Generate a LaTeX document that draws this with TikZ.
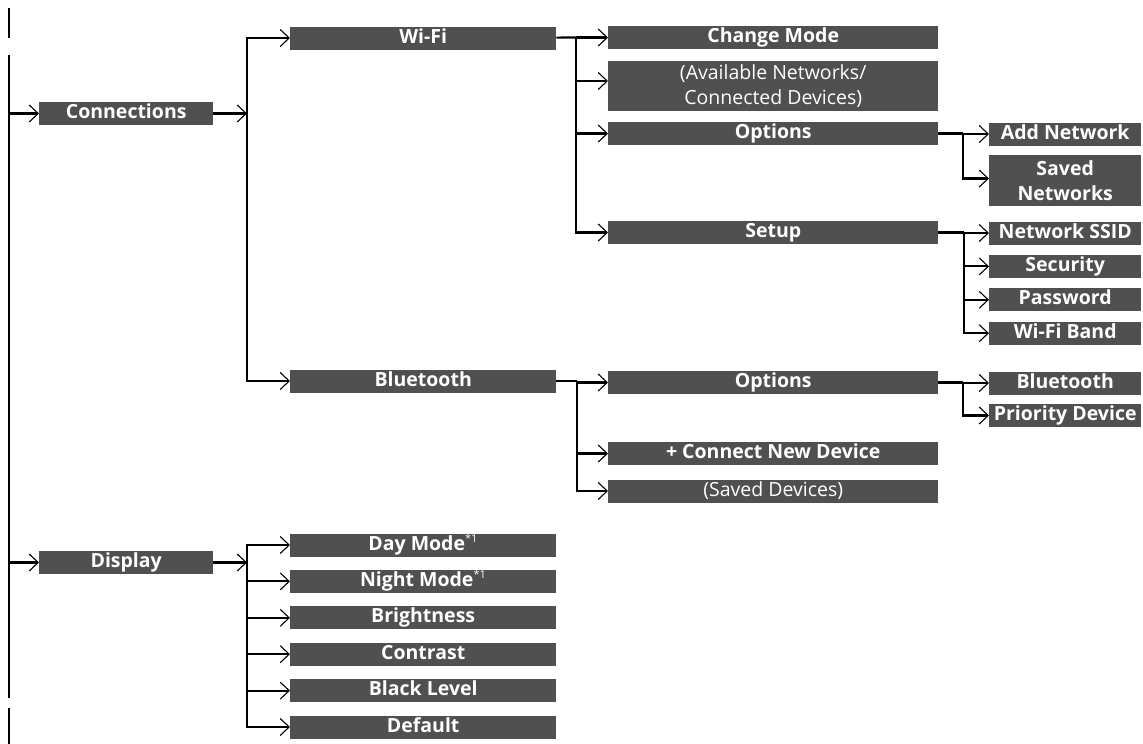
\documentclass[tikz,border=0pt]{standalone}
\usepackage{fontspec}
\setmainfont{Open Sans}
\usetikzlibrary{arrows.meta,positioning}
\definecolor{bargray}{HTML}{505050}
\tikzset{
        x=1pt, y=-1pt, % picture units are the reference's pixels
        >={Straight Barb[length=9pt,width=17pt,line width=1.1pt]}, % thin open arrow heads
        menubar/.style={fill=bargray, text=white, inner sep=0pt, anchor=west, align=center,
                        minimum height=23pt, text height=16.5pt, text depth=6.5pt,
                        font=\fontsize{19.5}{25}\selectfont\bfseries}, % dark menu bar
        tworows/.style={text height=, text depth=}, % for bars with two lines of text
        topbar/.style={menubar, minimum width=174pt},
        subbar/.style={menubar, minimum width=266pt},
        itembar/.style={menubar, minimum width=330pt},
        leafbar/.style={menubar, minimum width=152pt},
        plain/.style={font=\fontsize{19.5}{25}\selectfont\mdseries},
        link/.style={line width=2.1pt},
        pagelink/.style={line width=1.4pt},
    }
\newcommand{\notemark}{\textsuperscript{\mdseries\fontsize{11}{11}\selectfont *1}}

\begin{document}
\begin{tikzpicture}
    \useasboundingbox (0,0) rectangle (1143,744);

    % first level
    \node[topbar] (conn) at (39,113.5) {Connections};
    \node[topbar] (disp) at (39,562.5) {Display};

    % second level
    \node[subbar] (wifi) at (290,38) {Wi-Fi};
    \node[subbar] (bt) at (290,381) {Bluetooth};
    \node[subbar] (day) at (290,545) {Day Mode\notemark};
    \node[subbar, below=13pt of day] (night) {Night Mode\notemark};
    \node[subbar, below=13pt of night] (bright) {Brightness};
    \node[subbar, below=13pt of bright] (contrast) {Contrast};
    \node[subbar, below=13pt of contrast] (black) {Black Level};
    \node[subbar, below=13pt of black] (default) {Default};

    % third level
    \node[itembar] (chmode) at (608,37.5) {Change Mode};
    \node[itembar, plain, tworows, minimum height=50pt] (avail) at (608,86) {(Available Networks/\\Connected Devices)};
    \node[itembar] (wopt) at (608,133.5) {Options};
    \node[itembar] (setup) at (608,232.5) {Setup};
    \node[itembar] (bopt) at (608,382.5) {Options};
    \node[itembar] (newdev) at (608,453.5) {+ Connect New Device};
    \node[itembar, plain] (saveddev) at (608,491) {(Saved Devices)};

    % fourth level
    \node[leafbar] (addnet) at (989,134) {Add Network};
    \node[leafbar, tworows, minimum height=51pt] (savednet) at (989,180.5) {Saved\\Networks};
    \node[leafbar] (ssid) at (989,233) {Network SSID};
    \node[leafbar, below=10pt of ssid] (security) {Security};
    \node[leafbar, below=10pt of security] (password) {Password};
    \node[leafbar, below=10pt of password] (band) {Wi-Fi Band};
    \node[leafbar] (btsub) at (989,383) {Bluetooth};
    \node[leafbar] (prio) at (989,415.5) {Priority Device};

    % forks
    \coordinate (mainTop) at (9,55);
    \coordinate (mainBot) at (9,698);
    \coordinate (contA) at (9,8);
    \coordinate (contB) at (9,38);
    \coordinate (contC) at (9,708);
    \coordinate (contD) at (9,744);
    \coordinate (connFork) at (247,113.5);
    \coordinate (dispFork) at (247,562.5);
    \coordinate (wifiFork) at (576,37.5);
    \coordinate (btFork) at (577,381);
    \coordinate (woptFork) at (963,133.5);
    \coordinate (setupFork) at (964,232.5);
    \coordinate (boptFork) at (963,382.5);

    \draw[pagelink] (contA) -- (contB);
    \draw[pagelink] (contC) -- (contD);
    \draw[link] (mainTop) -- (mainBot);
    \draw[link, ->] (mainTop |- conn) -- (conn);
    \draw[link, ->] (mainTop |- disp) -- (disp);

    \draw[link, ->] (conn) -- (connFork);
    \draw[link, ->] (connFork) |- (wifi);
    \draw[link, ->] (connFork) |- (bt);

    \draw[link, ->] (disp) -- (dispFork);
    \foreach \item in {day, night, bright, contrast, black, default}
        \draw[link, ->] (dispFork) |- (\item);

    \draw[link] (wifi) -- (wifiFork);
    \draw[link, ->] (wifiFork) -- (chmode);
    \draw[link, ->] (wifiFork) |- ([yshift=5pt]avail.west);
    \draw[link, ->] (wifiFork) |- (wopt);
    \draw[link, ->] (wifiFork) |- (setup);

    \draw[link] (wopt) -- (woptFork);
    \draw[link, ->] (woptFork) |- (addnet);
    \draw[link, ->] (woptFork) |- ([yshift=2pt]savednet.west);

    \draw[link] (setup) -- (setupFork);
    \foreach \item in {ssid, security, password, band}
        \draw[link, ->] (setupFork) |- (\item);

    \draw[link] (bt) -- (btFork);
    \foreach \item in {bopt, newdev, saveddev}
        \draw[link, ->] (btFork) |- (\item);

    \draw[link] (bopt) -- (boptFork);
    \draw[link, ->] (boptFork) |- (btsub);
    \draw[link, ->] (boptFork) |- (prio);
\end{tikzpicture}
\end{document}
